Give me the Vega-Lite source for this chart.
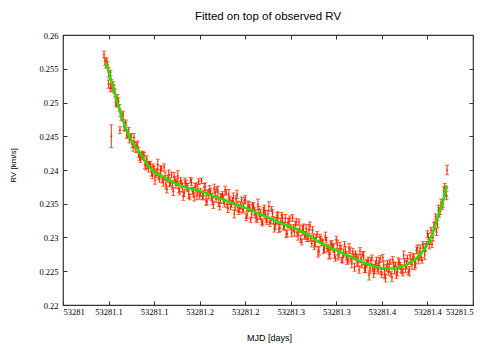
{
  "$schema": "https://vega.github.io/schema/vega-lite/v6.json",
  "autosize": {"type": "none"},
  "width": 410,
  "height": 270,
  "padding": {"left": 63, "top": 35, "right": 18, "bottom": 39},
  "background": "white",
  "title": {"text": "Fitted on top of observed RV", "font": "Liberation Sans", "fontSize": 11.5, "fontWeight": "normal", "color": "#000", "offset": 9, "anchor": "middle"},
  "config": {
    "view": {"stroke": "#333", "strokeWidth": 1.2},
    "axis": {"domain": false, "grid": false, "tickColor": "#333", "tickSize": -4, "labelFont": "Liberation Serif", "labelFontSize": 8.5, "labelColor": "#000", "titleFont": "Liberation Sans", "titleFontWeight": "normal", "titleColor": "#000"}
  },
  "datasets": {
    "obs": [
      {"x":53281.045,"y":0.2571,"e":0.0005},{"x":53281.047,"y":0.2557,"e":0.0006},{"x":53281.049,"y":0.2556,"e":0.0004},{"x":53281.051,"y":0.2540,"e":0.0005},{"x":53281.053,"y":0.2527,"e":0.0007},
      {"x":53281.055,"y":0.2526,"e":0.0005},{"x":53281.057,"y":0.2514,"e":0.0006},{"x":53281.059,"y":0.2497,"e":0.0004},{"x":53281.061,"y":0.2501,"e":0.0006},{"x":53281.063,"y":0.2484,"e":0.0005},
      {"x":53281.065,"y":0.2480,"e":0.0005},{"x":53281.067,"y":0.2465,"e":0.0007},{"x":53281.069,"y":0.2470,"e":0.0004},{"x":53281.071,"y":0.2454,"e":0.0006},{"x":53281.073,"y":0.2445,"e":0.0005},
      {"x":53281.075,"y":0.2449,"e":0.0005},{"x":53281.077,"y":0.2434,"e":0.0006},{"x":53281.079,"y":0.2437,"e":0.0004},{"x":53281.081,"y":0.2436,"e":0.0005},{"x":53281.083,"y":0.2426,"e":0.0007},
      {"x":53281.085,"y":0.2416,"e":0.0005},{"x":53281.087,"y":0.2422,"e":0.0006},{"x":53281.089,"y":0.2422,"e":0.0004},{"x":53281.091,"y":0.2406,"e":0.0006},{"x":53281.093,"y":0.2407,"e":0.0005},
      {"x":53281.095,"y":0.2408,"e":0.0005},{"x":53281.097,"y":0.2398,"e":0.0007},{"x":53281.099,"y":0.2405,"e":0.0004},{"x":53281.101,"y":0.2385,"e":0.0006},{"x":53281.103,"y":0.2397,"e":0.0005},
      {"x":53281.105,"y":0.2391,"e":0.0005},{"x":53281.107,"y":0.2400,"e":0.0006},{"x":53281.109,"y":0.2385,"e":0.0004},{"x":53281.111,"y":0.2404,"e":0.0005},{"x":53281.113,"y":0.2379,"e":0.0007},
      {"x":53281.115,"y":0.2387,"e":0.0005},{"x":53281.117,"y":0.2381,"e":0.0006},{"x":53281.119,"y":0.2393,"e":0.0004},{"x":53281.121,"y":0.2368,"e":0.0006},{"x":53281.123,"y":0.2385,"e":0.0005},
      {"x":53281.125,"y":0.2382,"e":0.0005},{"x":53281.127,"y":0.2373,"e":0.0007},{"x":53281.129,"y":0.2385,"e":0.0004},{"x":53281.131,"y":0.2374,"e":0.0006},{"x":53281.133,"y":0.2366,"e":0.0005},
      {"x":53281.135,"y":0.2380,"e":0.0005},{"x":53281.137,"y":0.2374,"e":0.0006},{"x":53281.139,"y":0.2360,"e":0.0004},{"x":53281.141,"y":0.2382,"e":0.0005},{"x":53281.143,"y":0.2367,"e":0.0007},
      {"x":53281.145,"y":0.2375,"e":0.0005},{"x":53281.147,"y":0.2362,"e":0.0006},{"x":53281.149,"y":0.2383,"e":0.0004},{"x":53281.151,"y":0.2367,"e":0.0006},{"x":53281.153,"y":0.2361,"e":0.0005},
      {"x":53281.155,"y":0.2375,"e":0.0005},{"x":53281.157,"y":0.2355,"e":0.0007},{"x":53281.159,"y":0.2366,"e":0.0004},{"x":53281.161,"y":0.2371,"e":0.0006},{"x":53281.163,"y":0.2360,"e":0.0005},
      {"x":53281.165,"y":0.2348,"e":0.0005},{"x":53281.167,"y":0.2365,"e":0.0006},{"x":53281.169,"y":0.2371,"e":0.0004},{"x":53281.171,"y":0.2351,"e":0.0005},{"x":53281.173,"y":0.2358,"e":0.0007},
      {"x":53281.175,"y":0.2363,"e":0.0005},{"x":53281.177,"y":0.2351,"e":0.0006},{"x":53281.179,"y":0.2367,"e":0.0004},{"x":53281.181,"y":0.2343,"e":0.0006},{"x":53281.183,"y":0.2356,"e":0.0005},
      {"x":53281.185,"y":0.2350,"e":0.0005},{"x":53281.187,"y":0.2359,"e":0.0007},{"x":53281.189,"y":0.2344,"e":0.0004},{"x":53281.191,"y":0.2364,"e":0.0006},{"x":53281.193,"y":0.2339,"e":0.0005},
      {"x":53281.195,"y":0.2348,"e":0.0005},{"x":53281.197,"y":0.2342,"e":0.0006},{"x":53281.199,"y":0.2355,"e":0.0004},{"x":53281.201,"y":0.2330,"e":0.0005},{"x":53281.203,"y":0.2347,"e":0.0007},
      {"x":53281.205,"y":0.2344,"e":0.0005},{"x":53281.207,"y":0.2335,"e":0.0006},{"x":53281.209,"y":0.2347,"e":0.0004},{"x":53281.211,"y":0.2335,"e":0.0006},{"x":53281.213,"y":0.2327,"e":0.0005},
      {"x":53281.215,"y":0.2341,"e":0.0005},{"x":53281.217,"y":0.2335,"e":0.0007},{"x":53281.219,"y":0.2321,"e":0.0004},{"x":53281.221,"y":0.2342,"e":0.0006},{"x":53281.223,"y":0.2327,"e":0.0005},
      {"x":53281.225,"y":0.2335,"e":0.0005},{"x":53281.227,"y":0.2322,"e":0.0006},{"x":53281.229,"y":0.2342,"e":0.0004},{"x":53281.231,"y":0.2325,"e":0.0005},{"x":53281.233,"y":0.2319,"e":0.0007},
      {"x":53281.235,"y":0.2333,"e":0.0005},{"x":53281.237,"y":0.2313,"e":0.0006},{"x":53281.239,"y":0.2324,"e":0.0004},{"x":53281.241,"y":0.2328,"e":0.0006},{"x":53281.243,"y":0.2317,"e":0.0005},
      {"x":53281.245,"y":0.2305,"e":0.0005},{"x":53281.247,"y":0.2322,"e":0.0007},{"x":53281.249,"y":0.2328,"e":0.0004},{"x":53281.251,"y":0.2307,"e":0.0006},{"x":53281.253,"y":0.2314,"e":0.0005},
      {"x":53281.255,"y":0.2319,"e":0.0005},{"x":53281.257,"y":0.2307,"e":0.0006},{"x":53281.259,"y":0.2323,"e":0.0004},{"x":53281.261,"y":0.2298,"e":0.0005},{"x":53281.263,"y":0.2311,"e":0.0007},
      {"x":53281.265,"y":0.2304,"e":0.0005},{"x":53281.267,"y":0.2313,"e":0.0006},{"x":53281.269,"y":0.2298,"e":0.0004},{"x":53281.271,"y":0.2317,"e":0.0006},{"x":53281.273,"y":0.2291,"e":0.0005},
      {"x":53281.275,"y":0.2299,"e":0.0005},{"x":53281.277,"y":0.2293,"e":0.0007},{"x":53281.279,"y":0.2305,"e":0.0004},{"x":53281.281,"y":0.2280,"e":0.0006},{"x":53281.283,"y":0.2297,"e":0.0005},
      {"x":53281.285,"y":0.2293,"e":0.0005},{"x":53281.287,"y":0.2284,"e":0.0006},{"x":53281.289,"y":0.2296,"e":0.0004},{"x":53281.291,"y":0.2284,"e":0.0005},{"x":53281.293,"y":0.2276,"e":0.0007},
      {"x":53281.295,"y":0.2290,"e":0.0005},{"x":53281.297,"y":0.2284,"e":0.0006},{"x":53281.299,"y":0.2269,"e":0.0004},{"x":53281.301,"y":0.2290,"e":0.0006},{"x":53281.303,"y":0.2275,"e":0.0005},
      {"x":53281.305,"y":0.2283,"e":0.0005},{"x":53281.307,"y":0.2270,"e":0.0007},{"x":53281.309,"y":0.2290,"e":0.0004},{"x":53281.311,"y":0.2273,"e":0.0006},{"x":53281.313,"y":0.2267,"e":0.0005},
      {"x":53281.315,"y":0.2281,"e":0.0005},{"x":53281.317,"y":0.2261,"e":0.0006},{"x":53281.319,"y":0.2272,"e":0.0004},{"x":53281.321,"y":0.2275,"e":0.0005},{"x":53281.323,"y":0.2264,"e":0.0007},
      {"x":53281.325,"y":0.2252,"e":0.0005},{"x":53281.327,"y":0.2269,"e":0.0006},{"x":53281.329,"y":0.2275,"e":0.0004},{"x":53281.331,"y":0.2254,"e":0.0006},{"x":53281.333,"y":0.2261,"e":0.0005},
      {"x":53281.335,"y":0.2266,"e":0.0005},{"x":53281.337,"y":0.2254,"e":0.0007},{"x":53281.339,"y":0.2270,"e":0.0004},{"x":53281.341,"y":0.2247,"e":0.0006},{"x":53281.343,"y":0.2260,"e":0.0005},
      {"x":53281.345,"y":0.2254,"e":0.0005},{"x":53281.347,"y":0.2264,"e":0.0006},{"x":53281.349,"y":0.2249,"e":0.0004},{"x":53281.351,"y":0.2270,"e":0.0005},{"x":53281.353,"y":0.2246,"e":0.0007},
      {"x":53281.355,"y":0.2255,"e":0.0005},{"x":53281.357,"y":0.2250,"e":0.0006},{"x":53281.359,"y":0.2264,"e":0.0004},{"x":53281.361,"y":0.2241,"e":0.0006},{"x":53281.363,"y":0.2259,"e":0.0005},
      {"x":53281.365,"y":0.2258,"e":0.0005},{"x":53281.367,"y":0.2250,"e":0.0007},{"x":53281.369,"y":0.2264,"e":0.0004},{"x":53281.371,"y":0.2254,"e":0.0006},{"x":53281.373,"y":0.2248,"e":0.0005},
      {"x":53281.375,"y":0.2264,"e":0.0005},{"x":53281.377,"y":0.2260,"e":0.0006},{"x":53281.379,"y":0.2249,"e":0.0004},{"x":53281.381,"y":0.2273,"e":0.0005},{"x":53281.383,"y":0.2260,"e":0.0007},
      {"x":53281.385,"y":0.2271,"e":0.0005},{"x":53281.387,"y":0.2261,"e":0.0006},{"x":53281.389,"y":0.2285,"e":0.0004},{"x":53281.391,"y":0.2273,"e":0.0006},{"x":53281.393,"y":0.2271,"e":0.0005},
      {"x":53281.395,"y":0.2289,"e":0.0005},{"x":53281.397,"y":0.2274,"e":0.0007},{"x":53281.399,"y":0.2290,"e":0.0004},{"x":53281.401,"y":0.2300,"e":0.0006},{"x":53281.403,"y":0.2295,"e":0.0005},
      {"x":53281.405,"y":0.2290,"e":0.0005},{"x":53281.407,"y":0.2316,"e":0.0006},{"x":53281.409,"y":0.2331,"e":0.0004},{"x":53281.411,"y":0.2320,"e":0.0005},{"x":53281.413,"y":0.2337,"e":0.0007},
      {"x":53281.415,"y":0.2352,"e":0.0005},{"x":53281.417,"y":0.2350,"e":0.0006},{"x":53281.419,"y":0.2376,"e":0.0004},{"x":53281.421,"y":0.2362,"e":0.0006},
      {"x":53281.053,"y":0.2450,"e":0.0017},{"x":53281.0625,"y":0.2459,"e":0.0005},{"x":53281.4215,"y":0.2400,"e":0.0007},{"x":53281.050,"y":0.2527,"e":0.0006},{"x":53281.052,"y":0.2522,"e":0.0006},
      {"x":53281.046,"y":0.2561,"e":0.0006},{"x":53281.048,"y":0.2561,"e":0.0005},{"x":53281.050,"y":0.2545,"e":0.0007},{"x":53281.052,"y":0.2544,"e":0.0004},{"x":53281.054,"y":0.2521,"e":0.0005},
      {"x":53281.056,"y":0.2520,"e":0.0006},{"x":53281.058,"y":0.2500,"e":0.0005},{"x":53281.060,"y":0.2504,"e":0.0008},{"x":53281.062,"y":0.2492,"e":0.0005},{"x":53281.064,"y":0.2477,"e":0.0004},
      {"x":53281.066,"y":0.2481,"e":0.0006},{"x":53281.068,"y":0.2464,"e":0.0006},{"x":53281.070,"y":0.2452,"e":0.0005},{"x":53281.072,"y":0.2456,"e":0.0007},{"x":53281.074,"y":0.2448,"e":0.0004},
      {"x":53281.076,"y":0.2438,"e":0.0005},{"x":53281.078,"y":0.2448,"e":0.0006},{"x":53281.080,"y":0.2431,"e":0.0005},{"x":53281.082,"y":0.2435,"e":0.0008},{"x":53281.084,"y":0.2419,"e":0.0005},
      {"x":53281.086,"y":0.2422,"e":0.0004},{"x":53281.088,"y":0.2421,"e":0.0006},{"x":53281.090,"y":0.2408,"e":0.0006},{"x":53281.092,"y":0.2416,"e":0.0005},{"x":53281.094,"y":0.2404,"e":0.0007},
      {"x":53281.096,"y":0.2408,"e":0.0004},{"x":53281.098,"y":0.2392,"e":0.0005},{"x":53281.100,"y":0.2400,"e":0.0006},{"x":53281.102,"y":0.2394,"e":0.0005},{"x":53281.104,"y":0.2408,"e":0.0008},
      {"x":53281.106,"y":0.2387,"e":0.0005},{"x":53281.108,"y":0.2402,"e":0.0004},{"x":53281.110,"y":0.2382,"e":0.0006},{"x":53281.112,"y":0.2391,"e":0.0006},{"x":53281.114,"y":0.2371,"e":0.0005},
      {"x":53281.116,"y":0.2393,"e":0.0007},{"x":53281.118,"y":0.2381,"e":0.0004},{"x":53281.120,"y":0.2376,"e":0.0005},{"x":53281.122,"y":0.2390,"e":0.0006},{"x":53281.124,"y":0.2378,"e":0.0005},
      {"x":53281.126,"y":0.2391,"e":0.0008},{"x":53281.128,"y":0.2368,"e":0.0005},{"x":53281.130,"y":0.2381,"e":0.0004},{"x":53281.132,"y":0.2361,"e":0.0006},{"x":53281.134,"y":0.2382,"e":0.0006},
      {"x":53281.136,"y":0.2375,"e":0.0005},{"x":53281.138,"y":0.2365,"e":0.0007},{"x":53281.140,"y":0.2385,"e":0.0004},{"x":53281.142,"y":0.2369,"e":0.0005},{"x":53281.144,"y":0.2360,"e":0.0006},
      {"x":53281.146,"y":0.2376,"e":0.0005},{"x":53281.148,"y":0.2371,"e":0.0008},{"x":53281.150,"y":0.2362,"e":0.0005},{"x":53281.152,"y":0.2384,"e":0.0004},{"x":53281.154,"y":0.2362,"e":0.0006},
      {"x":53281.156,"y":0.2375,"e":0.0006},{"x":53281.158,"y":0.2353,"e":0.0005},{"x":53281.160,"y":0.2364,"e":0.0007},{"x":53281.162,"y":0.2369,"e":0.0004},{"x":53281.164,"y":0.2354,"e":0.0005},
      {"x":53281.166,"y":0.2373,"e":0.0006},{"x":53281.168,"y":0.2357,"e":0.0005},{"x":53281.170,"y":0.2368,"e":0.0008},{"x":53281.172,"y":0.2346,"e":0.0005},{"x":53281.174,"y":0.2361,"e":0.0004},
      {"x":53281.176,"y":0.2356,"e":0.0006},{"x":53281.178,"y":0.2370,"e":0.0006},{"x":53281.180,"y":0.2349,"e":0.0005},{"x":53281.182,"y":0.2364,"e":0.0007},{"x":53281.184,"y":0.2345,"e":0.0004},
      {"x":53281.186,"y":0.2354,"e":0.0005},{"x":53281.188,"y":0.2335,"e":0.0006},{"x":53281.190,"y":0.2357,"e":0.0005},{"x":53281.192,"y":0.2346,"e":0.0008},{"x":53281.194,"y":0.2342,"e":0.0005},
      {"x":53281.196,"y":0.2356,"e":0.0004},{"x":53281.198,"y":0.2344,"e":0.0006},{"x":53281.200,"y":0.2356,"e":0.0006},{"x":53281.202,"y":0.2333,"e":0.0005},{"x":53281.204,"y":0.2346,"e":0.0007},
      {"x":53281.206,"y":0.2326,"e":0.0004},{"x":53281.208,"y":0.2347,"e":0.0005},{"x":53281.210,"y":0.2339,"e":0.0006},{"x":53281.212,"y":0.2329,"e":0.0005},{"x":53281.214,"y":0.2349,"e":0.0008},
      {"x":53281.216,"y":0.2332,"e":0.0005},{"x":53281.218,"y":0.2323,"e":0.0004},{"x":53281.220,"y":0.2339,"e":0.0006},{"x":53281.222,"y":0.2334,"e":0.0006},{"x":53281.224,"y":0.2324,"e":0.0005},
      {"x":53281.226,"y":0.2346,"e":0.0007},{"x":53281.228,"y":0.2324,"e":0.0004},{"x":53281.230,"y":0.2336,"e":0.0005},{"x":53281.232,"y":0.2314,"e":0.0006},{"x":53281.234,"y":0.2325,"e":0.0005},
      {"x":53281.236,"y":0.2329,"e":0.0008},{"x":53281.238,"y":0.2314,"e":0.0005},{"x":53281.240,"y":0.2333,"e":0.0004},{"x":53281.242,"y":0.2317,"e":0.0006},{"x":53281.244,"y":0.2328,"e":0.0006},
      {"x":53281.246,"y":0.2306,"e":0.0005},{"x":53281.248,"y":0.2321,"e":0.0007},{"x":53281.250,"y":0.2315,"e":0.0004},{"x":53281.252,"y":0.2329,"e":0.0005},{"x":53281.254,"y":0.2308,"e":0.0006},
      {"x":53281.256,"y":0.2323,"e":0.0005},{"x":53281.258,"y":0.2304,"e":0.0008},{"x":53281.260,"y":0.2312,"e":0.0005},{"x":53281.262,"y":0.2293,"e":0.0004},{"x":53281.264,"y":0.2314,"e":0.0006},
      {"x":53281.266,"y":0.2303,"e":0.0006},{"x":53281.268,"y":0.2299,"e":0.0005},{"x":53281.270,"y":0.2312,"e":0.0007},{"x":53281.272,"y":0.2299,"e":0.0004},{"x":53281.274,"y":0.2311,"e":0.0005},
      {"x":53281.276,"y":0.2288,"e":0.0006},{"x":53281.278,"y":0.2300,"e":0.0005},{"x":53281.280,"y":0.2279,"e":0.0008},{"x":53281.282,"y":0.2300,"e":0.0005},{"x":53281.284,"y":0.2292,"e":0.0004},
      {"x":53281.286,"y":0.2282,"e":0.0006},{"x":53281.288,"y":0.2302,"e":0.0006},{"x":53281.290,"y":0.2284,"e":0.0005},{"x":53281.292,"y":0.2275,"e":0.0007},{"x":53281.294,"y":0.2291,"e":0.0004},
      {"x":53281.296,"y":0.2286,"e":0.0005},{"x":53281.298,"y":0.2275,"e":0.0006},{"x":53281.300,"y":0.2297,"e":0.0005},{"x":53281.302,"y":0.2275,"e":0.0008},{"x":53281.304,"y":0.2288,"e":0.0005},
      {"x":53281.306,"y":0.2266,"e":0.0004},{"x":53281.308,"y":0.2277,"e":0.0006},{"x":53281.310,"y":0.2280,"e":0.0006},{"x":53281.312,"y":0.2265,"e":0.0005},{"x":53281.314,"y":0.2284,"e":0.0007},
      {"x":53281.316,"y":0.2268,"e":0.0004},{"x":53281.318,"y":0.2279,"e":0.0005},{"x":53281.320,"y":0.2256,"e":0.0006},{"x":53281.322,"y":0.2271,"e":0.0005},{"x":53281.324,"y":0.2266,"e":0.0008},
      {"x":53281.326,"y":0.2280,"e":0.0005},{"x":53281.328,"y":0.2259,"e":0.0004},{"x":53281.330,"y":0.2273,"e":0.0006},{"x":53281.332,"y":0.2254,"e":0.0006},{"x":53281.334,"y":0.2263,"e":0.0005},
      {"x":53281.336,"y":0.2244,"e":0.0007},{"x":53281.338,"y":0.2266,"e":0.0004},{"x":53281.340,"y":0.2255,"e":0.0005},{"x":53281.342,"y":0.2252,"e":0.0006},{"x":53281.344,"y":0.2266,"e":0.0005},
      {"x":53281.346,"y":0.2254,"e":0.0008},{"x":53281.348,"y":0.2268,"e":0.0005},{"x":53281.350,"y":0.2245,"e":0.0004},{"x":53281.352,"y":0.2259,"e":0.0006},{"x":53281.354,"y":0.2240,"e":0.0006},
      {"x":53281.356,"y":0.2261,"e":0.0005},{"x":53281.358,"y":0.2255,"e":0.0007},{"x":53281.360,"y":0.2246,"e":0.0004},{"x":53281.362,"y":0.2267,"e":0.0005},{"x":53281.364,"y":0.2252,"e":0.0006},
      {"x":53281.366,"y":0.2244,"e":0.0005},{"x":53281.368,"y":0.2262,"e":0.0008},{"x":53281.370,"y":0.2258,"e":0.0005},{"x":53281.372,"y":0.2250,"e":0.0004},{"x":53281.374,"y":0.2274,"e":0.0006},
      {"x":53281.376,"y":0.2254,"e":0.0006},{"x":53281.378,"y":0.2269,"e":0.0005},{"x":53281.380,"y":0.2250,"e":0.0007},{"x":53281.382,"y":0.2264,"e":0.0004},{"x":53281.384,"y":0.2270,"e":0.0005},
      {"x":53281.386,"y":0.2258,"e":0.0006},{"x":53281.388,"y":0.2281,"e":0.0005},{"x":53281.390,"y":0.2269,"e":0.0008},{"x":53281.392,"y":0.2284,"e":0.0005},{"x":53281.394,"y":0.2266,"e":0.0004},
      {"x":53281.396,"y":0.2285,"e":0.0006},{"x":53281.398,"y":0.2285,"e":0.0006},{"x":53281.400,"y":0.2305,"e":0.0005},{"x":53281.402,"y":0.2290,"e":0.0007},{"x":53281.404,"y":0.2311,"e":0.0004},
      {"x":53281.406,"y":0.2300,"e":0.0005},{"x":53281.408,"y":0.2318,"e":0.0006},{"x":53281.410,"y":0.2308,"e":0.0005},{"x":53281.412,"y":0.2340,"e":0.0008},{"x":53281.414,"y":0.2339,"e":0.0005},
      {"x":53281.416,"y":0.2345,"e":0.0004},{"x":53281.418,"y":0.2369,"e":0.0006},{"x":53281.420,"y":0.2367,"e":0.0006}
    ],
    "fit": [
      {"x":53281.047,"y":0.2560},{"x":53281.050,"y":0.2546},{"x":53281.055,"y":0.2522},{"x":53281.060,"y":0.2499},{"x":53281.065,"y":0.2477},
      {"x":53281.070,"y":0.2458},{"x":53281.075,"y":0.2444},{"x":53281.080,"y":0.2434},{"x":53281.085,"y":0.2424},{"x":53281.090,"y":0.2413},
      {"x":53281.095,"y":0.2404},{"x":53281.100,"y":0.2397},{"x":53281.105,"y":0.2393},{"x":53281.110,"y":0.2390},{"x":53281.115,"y":0.2386},
      {"x":53281.120,"y":0.2382},{"x":53281.130,"y":0.2376},{"x":53281.140,"y":0.2372},{"x":53281.150,"y":0.2369},{"x":53281.160,"y":0.2364},
      {"x":53281.170,"y":0.2359},{"x":53281.180,"y":0.2354},{"x":53281.190,"y":0.2349},{"x":53281.200,"y":0.2344},{"x":53281.210,"y":0.2338},
      {"x":53281.220,"y":0.2332},{"x":53281.230,"y":0.2327},{"x":53281.240,"y":0.2321},{"x":53281.250,"y":0.2316},{"x":53281.260,"y":0.2310},
      {"x":53281.270,"y":0.2303},{"x":53281.280,"y":0.2294},{"x":53281.290,"y":0.2287},{"x":53281.300,"y":0.2281},{"x":53281.310,"y":0.2275},
      {"x":53281.320,"y":0.2269},{"x":53281.330,"y":0.2263},{"x":53281.340,"y":0.2258},{"x":53281.350,"y":0.2255},{"x":53281.360,"y":0.2254},
      {"x":53281.370,"y":0.2256},{"x":53281.375,"y":0.2258},{"x":53281.380,"y":0.2262},{"x":53281.385,"y":0.2266},{"x":53281.390,"y":0.2272},
      {"x":53281.395,"y":0.2280},{"x":53281.400,"y":0.2290},{"x":53281.405,"y":0.2304},{"x":53281.410,"y":0.2324},{"x":53281.415,"y":0.2346},
      {"x":53281.420,"y":0.2368},{"x":53281.4215,"y":0.2377}
    ]
  },
  "resolve": {"axis": {"x": "independent", "y": "independent"}},
  "layer": [
    {
      "data": {"name": "obs"},
      "mark": {"type": "errorbar", "ticks": true, "size": 4, "thickness": 1, "color": "#ff2a00"},
      "encoding": {
        "x": {"field": "x", "type": "quantitative", "scale": {"domain": [53281, 53281.45], "nice": false, "zero": false},
          "axis": {"orient": "bottom", "values": [53281, 53281.05, 53281.1, 53281.15, 53281.2, 53281.25, 53281.3, 53281.35, 53281.4, 53281.45],
            "labelExpr": "['53281','53281.1','53281.1','53281.2','53281.2','53281.3','53281.3','53281.4','53281.4','53281.5'][round((datum.value-53281)/0.05)]",
            "labelPadding": 6, "title": "MJD [days]", "titleFontSize": 9, "titleX": 206, "titleY": 32, "titleBaseline": "middle"}},
        "y": {"field": "y", "type": "quantitative", "scale": {"domain": [0.22, 0.26], "nice": false, "zero": false},
          "axis": {"orient": "left", "values": [0.22, 0.225, 0.23, 0.235, 0.24, 0.245, 0.25, 0.255, 0.26], "format": ".3~f", "labelPadding": 9,
            "title": "RV [km/s]", "titleFontSize": 8, "titleAngle": -90, "titleX": -50, "titleY": 130, "titleBaseline": "middle", "titleAlign": "center"}},
        "yError": {"field": "e"}
      }
    },
    {
      "data": {"name": "obs"},
      "mark": {"type": "point", "shape": "cross", "size": 6, "filled": true, "color": "#ff2a00", "opacity": 0.8},
      "encoding": {
        "x": {"field": "x", "type": "quantitative", "scale": {"domain": [53281, 53281.45], "nice": false, "zero": false}, "axis": null},
        "y": {"field": "y", "type": "quantitative", "scale": {"domain": [0.22, 0.26], "nice": false, "zero": false}, "axis": null}
      }
    },
    {
      "data": {"name": "fit"},
      "mark": {"type": "line", "color": "#22e000", "strokeWidth": 2.5, "interpolate": "monotone"},
      "encoding": {
        "x": {"field": "x", "type": "quantitative", "scale": {"domain": [53281, 53281.45], "nice": false, "zero": false},
          "axis": {"orient": "top", "labels": false, "title": null, "values": [53281, 53281.05, 53281.1, 53281.15, 53281.2, 53281.25, 53281.3, 53281.35, 53281.4, 53281.45]}},
        "y": {"field": "y", "type": "quantitative", "scale": {"domain": [0.22, 0.26], "nice": false, "zero": false},
          "axis": {"orient": "right", "labels": false, "title": null, "values": [0.22, 0.225, 0.23, 0.235, 0.24, 0.245, 0.25, 0.255, 0.26]}}
      }
    }
  ]
}
